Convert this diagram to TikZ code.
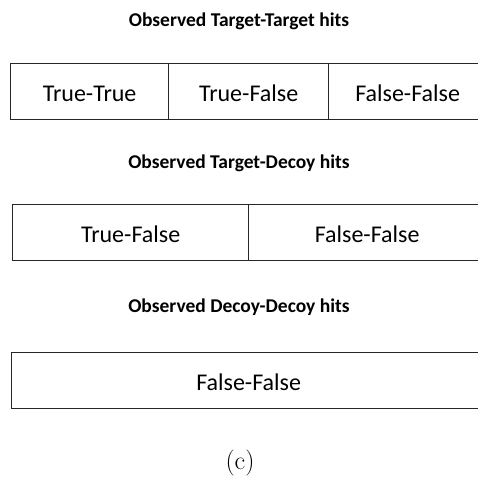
\documentclass[tikz,border=0pt]{standalone}
\usepackage{fontspec}
\newfontfamily\calib{Carlito}
\begin{document}
\begin{tikzpicture}[x=1pt,y=-1pt,
  cellbox/.style={draw=black!85, line width=1.3pt, minimum height=56pt, inner sep=0pt, anchor=north west, text height=20pt, text depth=0pt, font=\calib\fontsize{24}{28}\selectfont},
  titlelab/.style={font=\calib\bfseries\fontsize{19.5}{23}\selectfont, anchor=center}]
\useasboundingbox (0,0) rectangle (478,499);
\clip (0,0) rectangle (478,499);
% row 1
\node[titlelab] (t1) at (239,21) {Observed Target-Target hits};
\node[cellbox, minimum width=158pt] (a1) at (10,63) {True-True};
\node[cellbox, minimum width=160pt] (a2) at (168,63) {True-False};
\node[cellbox, minimum width=158pt] (a3) at (328,63) {False-False};
% row 2
\node[titlelab] (t2) at (239,163) {Observed Target-Decoy hits};
\node[cellbox, minimum width=236pt] (b1) at (12,204) {True-False};
\node[cellbox, minimum width=237pt] (b2) at (248,204) {False-False};
% row 3
\node[titlelab] (t3) at (239,307) {Observed Decoy-Decoy hits};
\node[cellbox, minimum width=474pt] (c1) at (11,352) {False-False};
% caption
\node[font=\fontsize{26}{30}\selectfont] (cap) at (240,463) {(c)};
\end{tikzpicture}
\end{document}
